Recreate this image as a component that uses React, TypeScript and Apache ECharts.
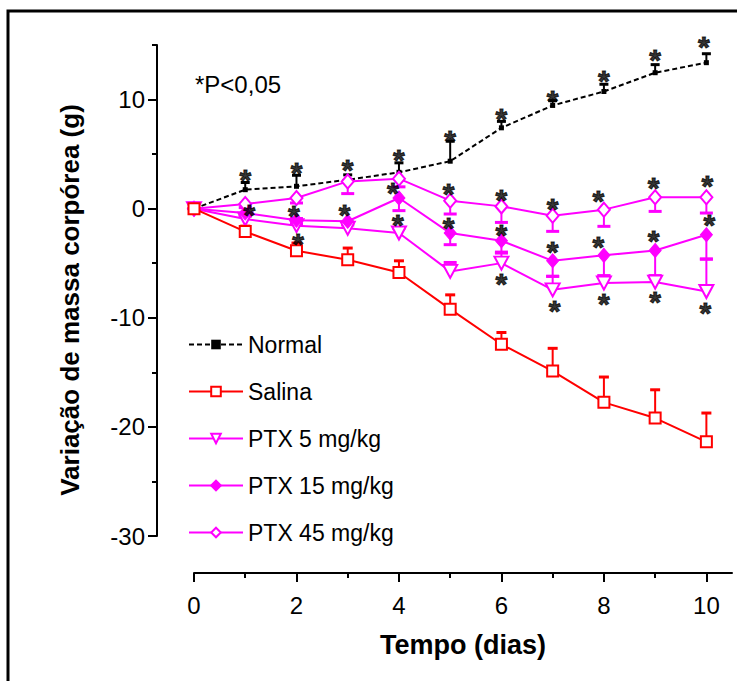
import React, { useEffect, useRef } from "react";
import * as echarts from "echarts";

const FONT = "'Liberation Sans', Arial, Helvetica, sans-serif";

// Days
const days = [0, 1, 2, 3, 4, 5, 6, 7, 8, 9, 10];

// Series means
const normal = [0, 1.74, 2.05, 2.65, 3.33, 4.35, 7.41, 9.46, 10.74, 12.46, 13.38];
const salina = [0, -2.1, -3.86, -4.68, -5.85, -9.21, -12.43, -14.88, -17.75, -19.19, -21.37];
const ptx5 = [0, -0.95, -1.56, -1.8, -2.23, -5.75, -4.99, -7.44, -6.82, -6.73, -7.59];
const ptx15 = [0, -0.4, -1.07, -1.15, 0.98, -2.24, -2.94, -4.78, -4.28, -3.83, -2.39];
const ptx45 = [0, 0.43, 0.98, 2.5, 2.75, 0.73, 0.21, -0.64, -0.09, 1.04, 1.04];

// Error bar end values
const normalErr = [0, 2.4, 3.06, 3.1, 4.2, 6.18, 8.0, 9.9, 11.4, 13.2, 14.2];
const salinaErr = [0, -1.6, -3.15, -3.61, -4.78, -7.9, -11.35, -12.8, -15.43, -16.6, -18.73];
const ptx5Err = [0.5, -0.6, -0.9, -1.5, -1.8, -4.93, -4.07, -6.2, -6.15, -6.15, -4.62];
const ptx15Err = [0, -0.7, -1.4, -1.4, -0.18, -3.3, -3.98, -6.2, -6.15, -6.15, -4.62];
const ptx45Err = [0, 0.1, 0.52, 1.38, 2.0, -0.49, -1.26, -2.08, -1.62, -0.25, -0.4];

// Significance asterisks
const asterX = [1, 2, 3, 4, 5, 6, 7, 8, 9, 9.95,
  1.08, 1.95, 2.03, 2.94, 3.88, 3.98,
  4.97, 4.97, 6, 6, 6, 7, 7, 7.04, 7.89, 7.89, 8, 8.97, 8.97, 9, 10.02, 10.06, 9.98];
const asterY = [2.97, 3.58, 3.83, 4.8, 6.55, 8.54, 10.17, 12.0, 13.99, 15.15,
  -0.25, -0.34, -2.95, -0.25, 1.78, -1.2,
  1.65, -1.45, 1.13, -2.08, -6.58, 0.3, -3.67, -9.06, 0.98, -3.15, -8.42, 2.2, -2.6, -8.2, 2.36, -1.22, -9.27];

// Axis ticks
const xMajor = [0, 2, 4, 6, 8, 10];
const xMinor = [1, 3, 5, 7, 9];
const yMajor = [-30, -20, -10, 0, 10];
const yMinor = [-25, -15, -5, 5, 15];

const names = ["Normal", "Salina", "PTX 5 mg/kg", "PTX 15 mg/kg", "PTX 45 mg/kg"];

const BLACK = "#000000";
const RED = "#ff0000";
const MAG = "#ff00ff";

function errSeries(vals: number[], ends: number[], color: string, capW: number) {
  return {
    type: "custom",
    silent: true,
    z: 1,
    data: days.map((d, i) => [d, vals[i], ends[i]]),
    encode: { x: 0, y: [1, 2] },
    renderItem: (params: any, api: any) => {
      const p = api.coord([api.value(0), api.value(1)]);
      const e = api.coord([api.value(0), api.value(2)]);
      return {
        type: "group",
        children: [
          { type: "line", shape: { x1: p[0], y1: p[1], x2: e[0], y2: e[1] }, style: { stroke: color, lineWidth: 2 } },
          { type: "line", shape: { x1: e[0] - capW / 2, y1: e[1], x2: e[0] + capW / 2, y2: e[1] }, style: { stroke: color, lineWidth: 3 } },
        ],
      };
    },
  };
}

export default function App() {
  const ref = useRef<HTMLDivElement>(null);
  useEffect(() => {
    document.body.style.margin = "0";
    const chart = echarts.init(ref.current!, null, { renderer: "svg" });
    const axisLineStyle = { color: BLACK, width: 2 };
    const option: any = {
      animation: false,
      backgroundColor: "#ffffff",
      grid: { left: 194, right: 5, top: 45, bottom: 145 },
      xAxis: [
        {
          type: "value", min: 0, max: 10.5, offset: 37, position: "bottom",
          axisLine: { show: true, onZero: false, lineStyle: axisLineStyle },
          axisTick: { show: true, length: 9, customValues: xMajor, lineStyle: { color: BLACK, width: 2 } },
          axisLabel: { customValues: xMajor, fontSize: 24, fontFamily: FONT, color: BLACK, margin: 20 },
          splitLine: { show: false },
        },
        {
          type: "value", min: 0, max: 10.5, offset: 37, position: "bottom",
          axisLine: { show: false, onZero: false },
          axisTick: { show: true, length: 5, customValues: xMinor, lineStyle: { color: BLACK, width: 2 } },
          axisLabel: { show: false },
          splitLine: { show: false },
        },
      ],
      yAxis: [
        {
          type: "value", min: -30, max: 15, offset: 37, position: "left",
          axisLine: { show: true, onZero: false, lineStyle: axisLineStyle },
          axisTick: { show: true, length: 9, customValues: yMajor, lineStyle: { color: BLACK, width: 2 } },
          axisLabel: { customValues: yMajor, fontSize: 24, fontFamily: FONT, color: BLACK, margin: 12 },
          splitLine: { show: false },
        },
        {
          type: "value", min: -30, max: 15, offset: 37, position: "left",
          axisLine: { show: false, onZero: false },
          axisTick: { show: true, length: 5, customValues: yMinor, lineStyle: { color: BLACK, width: 2 } },
          axisLabel: { show: false },
          splitLine: { show: false },
        },
      ],
      legend: {
        data: names,
        orient: "vertical",
        left: 183,
        top: 328,
        itemGap: 24,
        itemWidth: 54,
        itemHeight: 12,
        textStyle: { fontSize: 23, fontFamily: FONT, color: BLACK },
        selectedMode: false,
      },
      graphic: [
        { type: "rect", shape: { x: 8, y: 11, width: 800, height: 720 }, style: { fill: "none", stroke: BLACK, lineWidth: 3 }, silent: true },
        { type: "text", x: 195, y: 84, style: { text: "*P<0,05", fontSize: 24, fontFamily: FONT, fill: BLACK, align: "left", verticalAlign: "middle" } },
        { type: "text", x: 70, y: 300, rotation: Math.PI / 2, style: { text: "Variação de massa corpórea (g)", fontSize: 26, fontWeight: "bold", fontFamily: FONT, fill: BLACK, align: "center", verticalAlign: "middle" } },
        { type: "text", x: 463, y: 645, style: { text: "Tempo (dias)", fontSize: 27, fontWeight: "bold", fontFamily: FONT, fill: BLACK, align: "center", verticalAlign: "middle" } },
      ],
      series: [
        errSeries(normal, normalErr, BLACK, 9),
        errSeries(salina, salinaErr, RED, 10),
        errSeries(ptx5, ptx5Err, MAG, 13),
        errSeries(ptx15, ptx15Err, MAG, 13),
        errSeries(ptx45, ptx45Err, MAG, 13),
        {
          name: "PTX 5 mg/kg", type: "line", z: 3, data: days.map((d, i) => [d, ptx5[i]]),
          symbol: "triangle", symbolRotate: 180, symbolSize: [14, 13], showAllSymbol: true,
          lineStyle: { color: MAG, width: 2 },
          itemStyle: { color: "#ffffff", borderColor: MAG, borderWidth: 2 },
        },
        {
          name: "PTX 15 mg/kg", type: "line", z: 3, data: days.map((d, i) => [d, ptx15[i]]),
          symbol: "diamond", symbolSize: [12, 14], showAllSymbol: true,
          lineStyle: { color: MAG, width: 2 },
          itemStyle: { color: MAG, borderColor: MAG, borderWidth: 1 },
        },
        {
          name: "PTX 45 mg/kg", type: "line", z: 3, data: days.map((d, i) => [d, ptx45[i]]),
          symbol: "diamond", symbolSize: [12, 14], showAllSymbol: true,
          lineStyle: { color: MAG, width: 2 },
          itemStyle: { color: "#ffffff", borderColor: MAG, borderWidth: 2 },
        },
        {
          name: "Salina", type: "line", z: 3, data: days.map((d, i) => [d, salina[i]]),
          symbol: "rect", symbolSize: 11, showAllSymbol: true,
          lineStyle: { color: RED, width: 2 },
          itemStyle: { color: "#ffffff", borderColor: RED, borderWidth: 2 },
        },
        {
          name: "Normal", type: "line", z: 2, data: days.map((d, i) => [d, normal[i]]),
          symbol: "rect", symbolSize: 5, showAllSymbol: true,
          lineStyle: { color: BLACK, width: 2, type: [5, 3] },
          itemStyle: { color: BLACK },
        },
        {
          type: "scatter", z: 5, silent: true, clip: false,
          data: asterX.map((x, i) => [x, asterY[i]]),
          symbolSize: 1,
          itemStyle: { color: "rgba(0,0,0,0)" },
          label: {
            show: true, position: "inside", formatter: "*", fontSize: 30, fontWeight: "bold",
            fontFamily: FONT, color: BLACK, textBorderColor: BLACK, textBorderWidth: 1, offset: [0, 3],
          },
        },
      ],
    };
    chart.setOption(option);
    return () => chart.dispose();
  }, []);
  return <div ref={ref} style={{ width: 737, height: 681 }} />;
}
